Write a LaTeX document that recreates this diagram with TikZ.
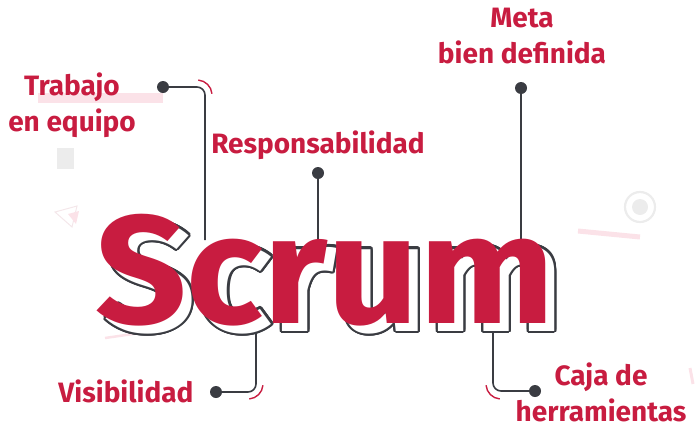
\documentclass[tikz,border=0pt]{standalone}
\usepackage{fontspec}
\setmainfont{Fira Sans}
\usetikzlibrary{
    positioning,
    calc
}
\definecolor{scrumRed}{RGB}{200,28,64}
\definecolor{lineGray}{RGB}{58,60,66}
\definecolor{paleRed}{RGB}{251,226,232}
\definecolor{paleGray}{RGB}{236,236,236}
\tikzset{
  lbl/.style     = {text=scrumRed, inner sep=0pt, align=center,
                    font=\bfseries\fontsize{28}{36}\selectfont},
  dot/.style     = {circle, fill=lineGray, minimum size=12pt, inner sep=0pt},
  conn/.style    = {lineGray, line width=1.6pt, rounded corners=8pt},
  tick/.style    = {scrumRed, line width=1.4pt},
  bigword/.style = {inner sep=0pt, anchor=base west, xscale=1.04,
                    font=\bfseries\fontsize{154}{154}\selectfont}
}

\begin{document}
\begin{tikzpicture}[x=1pt, y=-1pt]
  \useasboundingbox (0,0) rectangle (695,426);

  % faint background bits
  \fill[paleRed]  (38,93) rectangle (163,103);
  \fill[paleGray] (57,148) rectangle (74,169);
  \draw[paleRed!50!paleGray, line width=1pt] (55,212) -- (77,206) -- (72,227) -- cycle;
  \fill[paleRed]  (68,214) -- (79,211) -- (76,224) -- cycle;
  \draw[paleGray, line width=2.2pt] (640,207) circle (15pt);
  \fill[paleGray] (640,207) circle (8pt);
  \draw[paleRed, line width=5pt]   (578,231) -- (640,237);
  \draw[paleRed, line width=2.5pt] (105,338) -- (147,332);
  \draw[paleRed, line width=3pt]   (690,368) -- (693,384);

  % labels (base = last line)
  \node[lbl, anchor=base] (trabajo) at (72,131)  {Trabajo\\en equipo};
  \node[lbl, anchor=base] (resp)    at (318,153) {Responsabilidad};
  \node[lbl, anchor=base] (meta)    at (522,63)  {Meta\\bien definida};
  \node[lbl, anchor=base] (visib)   at (126,402) {Visibilidad};
  \node[lbl, anchor=base] (caja)    at (601,421) {Caja de\\herramientas};

  % dots and leader lines
  \node[dot] (dTrabajo) at (163,87)  {};
  \node[dot] (dResp)    at (318,173) {};
  \node[dot] (dMeta)    at (521,88)  {};
  \node[dot] (dVisib)   at (216,392) {};
  \node[dot] (dCaja)    at (535,391) {};
  \coordinate (eTrabajo) at (205,240);
  \coordinate (eResp)    at (318,240);
  \coordinate (eMeta)    at (521,240);
  \coordinate (eVisib)   at (256,320);
  \coordinate (eCaja)    at (493,320);

  \draw[conn] (dTrabajo.center) -| (eTrabajo);
  \draw[conn] (dResp.center) -- (eResp);
  \draw[conn] (dMeta.center) -- (eMeta);
  \draw[conn] (dVisib.center) -| (eVisib);
  \draw[conn] (dCaja.center) -| (eCaja);

  % little red arcs at the corners
  \coordinate (cTrabajo) at (197,95);
  \coordinate (cVisib)   at (248,384);
  \coordinate (cCaja)    at (501,384);
  \draw[tick] ([shift={(85:15pt)}]cTrabajo) arc[start angle=85, end angle=5, radius=15pt];
  \draw[tick] ([shift={(-85:15pt)}]cVisib) arc[start angle=-85, end angle=-5, radius=15pt];
  \draw[tick] ([shift={(185:15pt)}]cCaja) arc[start angle=185, end angle=265, radius=15pt];

  % the word, outlined shadow first
  \coordinate (shadow) at (104,331);
  \foreach \a in {0,15,...,345}
    \node[bigword, text=lineGray] (ring\a) at ([shift={(\a:2.2pt)}]shadow) {Scrum};
  \node[bigword, text=white] (scrumShadow) at (shadow) {Scrum};
  \node[bigword, text=scrumRed] (scrum) at (95,323) {Scrum};
\end{tikzpicture}
\end{document}
